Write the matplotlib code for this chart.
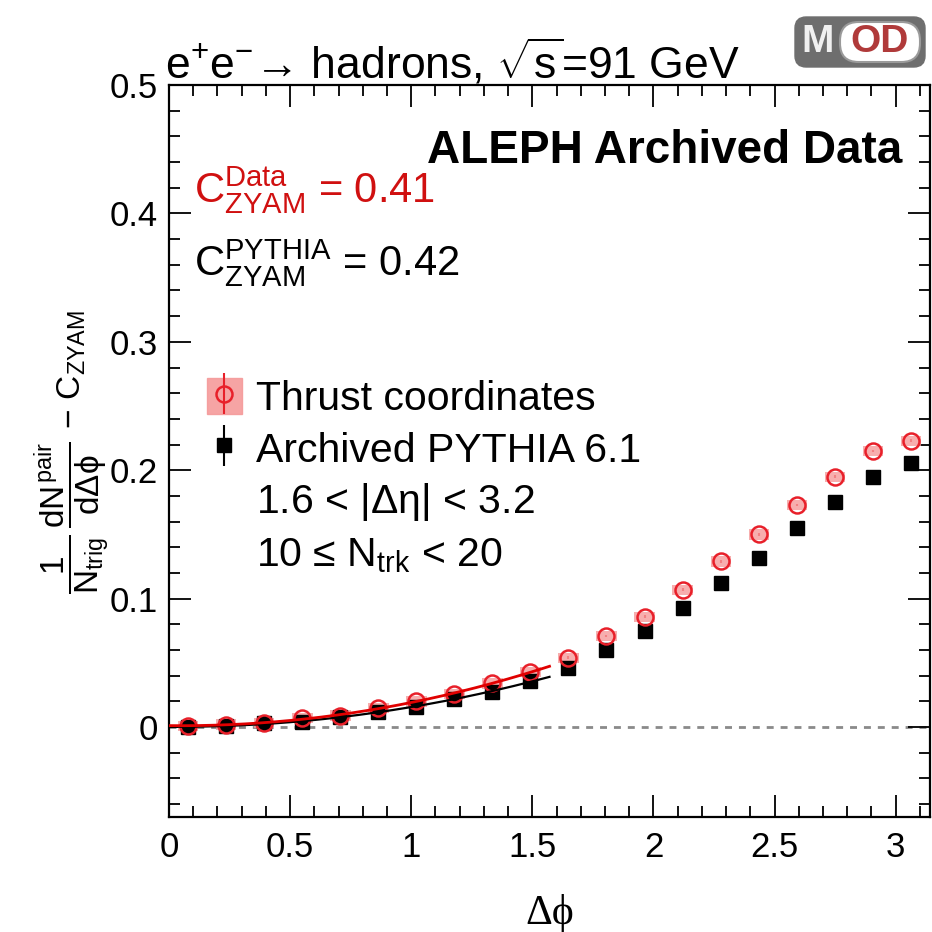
#!/usr/bin/env python3
"""
Long-range two-particle correlation, dphi projection after ZYAM subtraction:
archived ALEPH data (thrust axis) compared with archived PYTHIA 6.1.
"""

import matplotlib.pyplot as plt
import numpy as np
from matplotlib.legend_handler import HandlerTuple
from matplotlib.patches import FancyBboxPatch, Rectangle
from matplotlib.ticker import FuncFormatter, MultipleLocator

plt.rcParams["font.family"] = ["Liberation Sans", "DejaVu Sans"]
plt.rcParams["mathtext.fontset"] = "custom"
plt.rcParams["mathtext.rm"] = "Liberation Sans"
plt.rcParams["mathtext.it"] = "Liberation Sans"
plt.rcParams["mathtext.bf"] = "Liberation Sans:bold"

# bin centres in dphi (20 bins over [0, pi])
dphi = [0.079, 0.236, 0.393, 0.550, 0.707, 0.864, 1.021, 1.178, 1.335, 1.492,
        1.649, 1.806, 1.963, 2.121, 2.278, 2.435, 2.592, 2.749, 2.906, 3.063]

data_y = [0.001, 0.002, 0.003, 0.007, 0.009, 0.015, 0.020, 0.026, 0.034, 0.043,
          0.054, 0.071, 0.086, 0.107, 0.129, 0.150, 0.173, 0.195, 0.215, 0.223]
data_stat = [0.001] * 20
data_syst = [0.004] * 20

pythia_y = [0.000, 0.001, 0.003, 0.004, 0.008, 0.012, 0.016, 0.022, 0.027, 0.036,
            0.046, 0.060, 0.075, 0.093, 0.112, 0.132, 0.155, 0.175, 0.195, 0.206]
pythia_stat = [0.001] * 20

c_zyam_data = 0.41
c_zyam_pythia = 0.42

RED = "#e8202a"
PINK = "#f59a9a"
TEXT_RED = "#d01010"

fig = plt.figure(figsize=(9.32, 9.32), dpi=100)
ax = fig.add_axes([169 / 932, 1 - 817 / 932, 761 / 932, 732 / 932])

x = np.array(dphi)
yd = np.array(data_y)
yp = np.array(pythia_y)

# zero line
ax.axhline(0, color="#8a8a8a", lw=2, ls=(0, (2.5, 2.5)), zorder=1)

pyt = ax.errorbar(x, yp, yerr=pythia_stat, fmt="s", ms=10, color="black",
                  mec="black", elinewidth=1.5, capsize=0, zorder=3)

# data: stat bars under the systematic boxes, open circles on top
dat = ax.errorbar(x, yd, yerr=data_stat, fmt="none", color=RED,
                  elinewidth=1.5, capsize=0, zorder=2)
ax.bar(x, 2 * np.array(data_syst), bottom=yd - np.array(data_syst), width=0.085,
       color=PINK, alpha=0.8, edgecolor="none", zorder=3)
circ, = ax.plot(x, yd, "o", ms=11.5, mfc="none", mec=RED, mew=1.8, zorder=4)

# quadratic fits on the near side
near = x < np.pi / 2
xf = np.linspace(0, np.pi / 2, 200)
ax.plot(xf, np.polyval(np.polyfit(x[near], yp[near], 2), xf), color="black",
        lw=1.6, zorder=5)
ax.plot(xf, np.polyval(np.polyfit(x[near], yd[near], 2), xf), color="#e00000",
        lw=2.0, zorder=5)

ax.set_xlim(0, np.pi)
ax.set_ylim(-0.07, 0.5)

ax.xaxis.set_major_locator(MultipleLocator(0.5))
ax.xaxis.set_minor_locator(MultipleLocator(0.1))
ax.yaxis.set_major_locator(MultipleLocator(0.1))
ax.yaxis.set_minor_locator(MultipleLocator(0.02))
fmt = FuncFormatter(lambda v, p: f"{v:g}" if abs(v) > 1e-9 else "0")
ax.xaxis.set_major_formatter(fmt)
ax.yaxis.set_major_formatter(fmt)
ax.tick_params(which="both", direction="in", top=True, right=True, width=1.3,
               labelsize=25)
ax.tick_params(which="major", length=16)
ax.tick_params(which="minor", length=8)
ax.tick_params(axis="x", pad=10)
ax.tick_params(axis="y", pad=8)
for s in ax.spines.values():
    s.set_linewidth(1.6)

ax.set_xlabel("Δϕ", family=["Liberation Serif", "DejaVu Serif"], fontsize=30,
              labelpad=22)
fig.text(72 / 932, 1 - 452 / 932,
         r"$\dfrac{1}{N_{trig}}\,\dfrac{dN^{pair}}{d\Delta\phi}\,-\,C_{ZYAM}$",
         rotation=90, ha="center", va="center", fontsize=24)

# annotations
fig.text(165 / 932, 1 - 62 / 932,
         r"e$^{+}$e$^{-}$→ hadrons, $\sqrt{s}$=91 GeV",
         fontsize=32, ha="left", va="center")
ax.text(0.964, 0.91, "ALEPH Archived Data", transform=ax.transAxes,
        fontsize=33, fontweight="bold", ha="right", va="center")
ax.text(0.033, 0.857, r"$\mathregular{C^{Data}_{ZYAM}}$ = " + f"{c_zyam_data:.2f}",
        transform=ax.transAxes, fontsize=30, color=TEXT_RED, ha="left",
        va="center")
ax.text(0.033, 0.757, r"$\mathregular{C^{PYTHIA}_{ZYAM}}$ = " + f"{c_zyam_pythia:.2f}",
        transform=ax.transAxes, fontsize=30, color="black", ha="left",
        va="center")

# legend with the selection cuts as extra rows
box = Rectangle((0, 0), 1, 1, color=PINK, alpha=0.9)
blank = Rectangle((0, 0), 1, 1, alpha=0)
ax.legend([(box, dat, circ), pyt, blank, blank],
          ["Thrust coordinates", "Archived PYTHIA 6.1",
           r"1.6 < |$\Delta\eta$| < 3.2", r"10 ≤ N$_{trk}$ < 20"],
          handler_map={tuple: HandlerTuple(ndivide=1)},
          loc="upper left", bbox_to_anchor=(0.05, 0.6), frameon=False,
          fontsize=29.5, handlelength=0.85, handleheight=1.0, handletextpad=0.35,
          labelspacing=0.27, borderaxespad=0, borderpad=0)

# logo
fig.patches.append(FancyBboxPatch((795 / 932, 1 - 67 / 932), 130 / 932, 50 / 932,
                                  boxstyle="round,pad=0,rounding_size=0.012",
                                  transform=fig.transFigure, fc="#6e6e6e",
                                  ec="#6e6e6e", lw=1))
fig.patches.append(FancyBboxPatch((840 / 932, 1 - 62 / 932), 80 / 932, 40 / 932,
                                  boxstyle="round,pad=0,rounding_size=0.02",
                                  transform=fig.transFigure, fc="white",
                                  ec="#9a9a9a", lw=1.5))
fig.text(818 / 932, 1 - 42 / 932, "M", fontsize=28, fontweight="bold",
         color="#f0f0f0", ha="center", va="center")
fig.text(880 / 932, 1 - 42 / 932, "OD", fontsize=28, fontweight="bold",
         color="#b03a3a", ha="center", va="center")

fig.savefig("out.png", dpi=100)
